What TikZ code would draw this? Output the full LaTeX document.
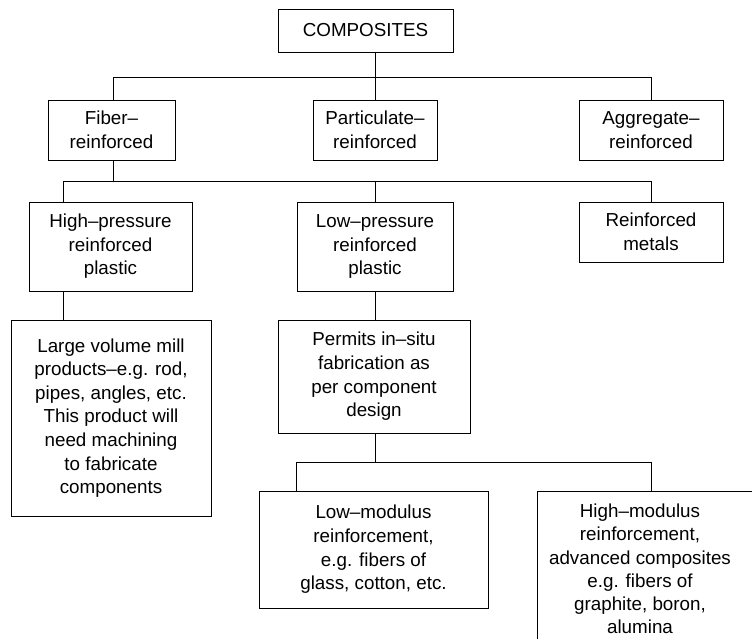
\documentclass[tikz,border=0pt]{standalone}
\usepackage{fontspec}
\setmainfont{Liberation Sans}
\begin{document}
\begin{tikzpicture}[x=1pt,y=-1pt,
  box/.style={draw, line width=0.9pt, inner sep=0pt, align=center,
    font=\fontsize{18.8}{23.6}\selectfont},
  txt/.style={inner sep=0pt, align=center, font=\fontsize{18.8}{23.2}\selectfont},
  link/.style={line width=0.9pt}]
\path[use as bounding box, fill=white] (0,0) rectangle (752,638);
\clip (0,0) rectangle (752,638);
% level 0
\node[box, minimum width=175pt, minimum height=43pt] (comp) at (365.5,30.5) {COMPOSITES};
% level 1
\node[box, minimum width=127pt, minimum height=60pt] (fiber) at (111.5,130) {Fiber–\\reinforced};
\node[box, minimum width=124pt, minimum height=60pt] (partic) at (375,130) {Particulate–\\reinforced};
\node[box, minimum width=144pt, minimum height=60pt] (aggr) at (651,130) {Aggregate–\\reinforced};
% level 2
\node[box, minimum width=163pt, minimum height=89pt] (hp) at (110.5,246.5) {High–pressure\\reinforced\\plastic};
\node[box, minimum width=156pt, minimum height=89pt] (lp) at (375,246.5) {Low–pressure\\reinforced\\plastic};
\node[box, minimum width=144pt, minimum height=60pt] (rm) at (651,232) {Reinforced\\metals};
% level 3
\node[box, minimum width=200pt, minimum height=196pt] (lv) at (111,418) {Large volume mill\\products–e.g. rod,\\pipes, angles, etc.\\This product will\\need machining\\to fabricate\\components};
\node[box, minimum width=192pt, minimum height=113pt] (perm) at (374,376.5) {Permits in–situ\\fabrication as\\per component\\design};
% level 4
\node[box, minimum width=229pt, minimum height=117pt] (lm) at (373.5,549.5) {Low–modulus\\reinforcement,\\e.g. fibers of\\glass, cotton, etc.};
\node[draw, line width=0.9pt, inner sep=0pt, minimum width=240pt, minimum height=170pt, anchor=north west] (hmbox) at (537,491) {};
\node[txt] (hm) at (640,569) {High–modulus\\reinforcement,\\advanced composites\\e.g. fibers of\\graphite, boron,\\alumina};
% bus coordinates
\coordinate (b1l) at (113,77);
\coordinate (b1r) at (651,77);
\coordinate (b2l) at (63,181);
\coordinate (b2r) at (651,181);
\coordinate (b3l) at (296,462);
\coordinate (b3r) at (651,462);
% connectors level 0-1
\draw[link] (comp.south -| partic.north) -- (partic.north);
\draw[link] (b1l) -- (b1r);
\draw[link] (b1l) -- (b1l |- fiber.north);
\draw[link] (b1r) -- (b1r |- aggr.north);
% connectors level 1-2
\draw[link] (b1l |- fiber.south) -- (b1l |- b2l);
\draw[link] (b2l) -- (b2r);
\draw[link] (b2l) -- (b2l |- hp.north);
\draw[link] (lp.north) -- (lp.north |- b2l);
\draw[link] (b2r) -- (b2r |- rm.north);
% connectors level 2-3
\draw[link] (b2l |- hp.south) -- (b2l |- lv.north);
\draw[link] (lp.south) -- (lp.south |- perm.north);
% connectors level 3-4
\draw[link] (lp.south |- perm.south) -- (lp.south |- b3l);
\draw[link] (b3l) -- (b3r);
\draw[link] (b3l) -- (b3l |- lm.north);
\draw[link] (b3r) -- (b3r |- hmbox.north);
\end{tikzpicture}
\end{document}
